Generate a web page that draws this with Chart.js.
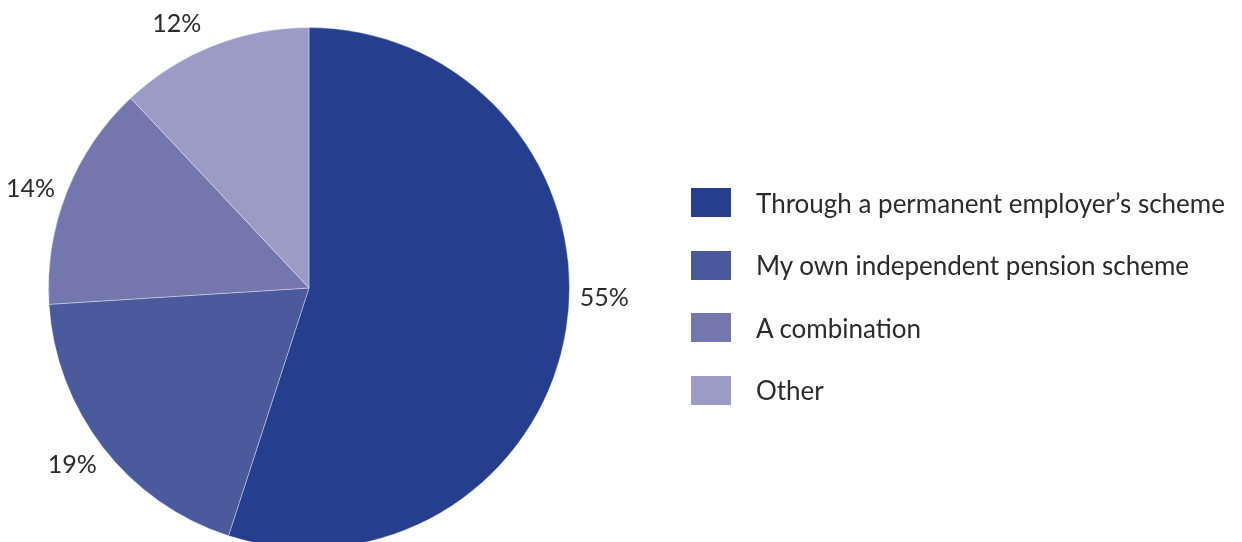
<!DOCTYPE html>
<html>
<head>
<meta charset="utf-8">
<script src="https://cdn.jsdelivr.net/npm/chart.js@4.4.0/dist/chart.umd.min.js"></script>
<style>
  body { margin:0; background:#fff; overflow:hidden; width:1242px; height:542px; }
  #wrap { position:absolute; left:0; top:0; width:1242px; height:576px; }
  #legenda { position:absolute; left:691px; top:188px; font-family:Lato, sans-serif; font-size:26px; color:#2b2b2b; }
  .item { display:flex; align-items:center; height:29px; margin-bottom:33.5px; white-space:nowrap; }
  .caixa { width:40px; height:29px; margin-right:25px; flex:none; }
</style>
</head>
<body>
<div id="wrap"><canvas id="graficoPizza" width="1242" height="576"></canvas></div>
<div id="legenda"></div>
<script>
// dados
const categorias = ["Through a permanent employer\u2019s scheme", 'My own independent pension scheme', 'A combination', 'Other'];
const valores = [55, 19, 14, 12];
const cores = ['#253F8E', '#4B5A9C', '#7377AE', '#9B9BC5'];

// rótulos de porcentagem fora da pizza
const rotulosFora = {
    id:'rotulosFora',
    afterDatasetsDraw(chart, args, opts){
        const ctx = chart.ctx;
        const meta = chart.getDatasetMeta(0);
        ctx.save();
        ctx.font = '25px Lato, sans-serif';
        ctx.fillStyle = '#2b2b2b';
        ctx.textAlign = 'center';
        ctx.textBaseline = 'middle';
        meta.data.forEach((arc, i) => {
            const ang = (arc.startAngle + arc.endAngle) / 2 + (opts.ajuste[i] || 0) * Math.PI / 180;
            const r = arc.outerRadius + opts.distancia;
            const x = arc.x + Math.cos(ang) * r;
            const y = arc.y + Math.sin(ang) * r;
            ctx.fillText(chart.data.datasets[0].data[i] + '%', x, y);
        });
        ctx.restore();
    }
};

const ctxPizza = document.getElementById('graficoPizza').getContext('2d');
const graficoPizza = new Chart(ctxPizza,{
    type:'pie',
    data:{
        labels: categorias,
        datasets:[{
            data: valores,
            backgroundColor: cores,
            borderColor: 'rgba(255,255,255,0.35)',
            borderWidth: 1
        }]
    },
    options:{
        responsive:false,
        animation:false,
        layout:{ padding:{ left:48, right:672, top:27, bottom:27 } },
        plugins:{
            legend:{ display:false },
            tooltip:{ enabled:false },
            rotulosFora:{ distancia:35, ajuste:[-7, 1, -2, -5] }
        }
    },
    plugins:[rotulosFora]
});

// legenda em HTML
const legenda = document.getElementById('legenda');
categorias.forEach((c, i) => {
    const item = document.createElement('div');
    item.className = 'item';
    item.innerHTML = '<div class="caixa" style="background:' + cores[i] + '"></div><span>' + c + '</span>';
    legenda.appendChild(item);
});
</script>
</body>
</html>
